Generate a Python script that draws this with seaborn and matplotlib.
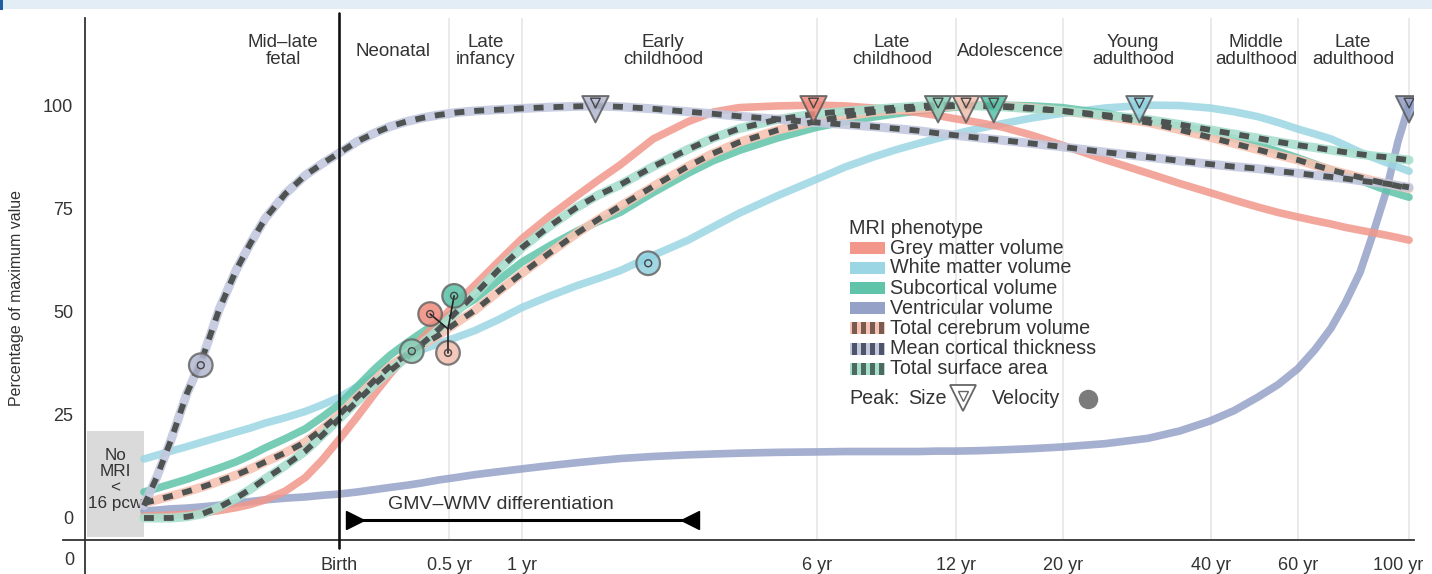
import matplotlib
matplotlib.use("Agg")
import matplotlib.pyplot as plt
from matplotlib.patches import Rectangle
from matplotlib.lines import Line2D
from matplotlib.ticker import NullLocator
import pandas as pd
import seaborn as sns

# ---- data (age = post-conception days, value = % of maximum) ----
age_days = [115, 122, 130, 140, 150, 162, 175, 187, 200, 219, 240, 259, 280, 304, 330, 353, 380,
            409, 440, 477, 520, 578, 645, 733, 829, 912, 1008, 1172, 1375, 1540, 1734, 2062, 2464,
            2812, 3194, 3548, 3923, 4278, 4643, 5156, 5753, 6596, 7562, 9201, 11194, 12950, 14853,
            16569, 18487, 20250, 22182, 23970, 25790, 27490, 29430, 31230, 33140, 34990, 36800]

gmv = [0.5, 0.6, 0.7, 0.9, 1.2, 1.8, 2.5, 3.3, 4.4, 6.5, 9.8, 14, 19, 24.5, 30.3, 34.8, 39.3,
       43.5, 47.5, 52, 56.4, 62, 67.7, 73.2, 78.1, 81.8, 85.5, 91.8, 96, 98.3, 99.4, 99.8, 100,
       99.8, 99.3, 98.8, 98.2, 97.5, 96.7, 95.8, 94.7, 92.7, 90.3, 86.8, 83.5, 81, 78.8,
       77, 75.3, 74, 72.9, 72, 71.2, 70.4, 69.7, 69.1, 68.5, 67.9, 67.3]
wmv = [14.3, 15.2, 16.2, 17.3, 18.4, 19.6, 20.8, 21.8, 23, 24.3, 25.8, 27.4, 29.2, 31.8, 34.5, 37, 39.2,
       40.8, 42.2, 43.7, 45.4, 48, 51, 53.8, 56.3, 58, 59.9, 63.6, 67.3, 70.5, 73.8, 78, 82,
       85, 87.4, 89.2, 90.7, 91.9, 93, 94.3, 95.5, 96.9, 98, 99.3, 100, 99.9, 99.3,
       98.4, 97.2, 95.8, 94.2, 93, 91.8, 90.3, 88.6, 87.3, 86.1, 85, 84]
subcortical = [6.3, 7.2, 8.2, 9.4, 10.7, 12.1, 13.6, 15.2, 17, 19.2, 21.6, 24.4, 27.5, 31.8, 36.2, 39.4, 42.3,
               45, 47.5, 50.2, 53, 57.5, 62, 66, 69.5, 71.8, 74, 78.8, 83.5, 86.5, 89, 92, 94.6,
               96, 97.1, 97.9, 98.6, 99.1, 99.5, 99.8, 100, 99.8, 99.4, 98, 96, 94.8, 93.5,
               91.9, 90.3, 88.8, 87.2, 85.7, 84.3, 83, 81.8, 80.6, 79.4, 78.5, 77.7]
ventricular = [1.7, 1.9, 2.2, 2.4, 2.7, 3.1, 3.6, 4, 4.4, 4.8, 5.1, 5.5, 5.8, 6.3, 6.9, 7.4, 7.9,
               8.5, 9.2, 9.8, 10.5, 11.2, 11.9, 12.7, 13.4, 13.9, 14.4, 14.9, 15.3, 15.5, 15.7, 15.9, 16,
               16.1, 16.1, 16.1, 16.1, 16.2, 16.2, 16.3, 16.5, 16.8, 17.2, 18, 19.3, 21.1, 23.5,
               26, 29.3, 32.3, 36.2, 40.8, 46, 52, 59.5, 68.9, 79, 91.2, 100]
tcv = [3.6, 4.4, 5.3, 6.4, 7.5, 8.9, 10.4, 11.9, 13.6, 15.8, 18.4, 21.5, 25, 29.3, 33.5, 36.7, 39.5,
       41.9, 44.2, 47.2, 50.3, 54.8, 59.3, 64.3, 69, 72.3, 75.5, 80.3, 85.2, 88.3, 91, 93.9, 96.1,
       97.3, 98.3, 98.8, 99.2, 99.5, 99.8, 100, 99.8, 99.3, 98.6, 97.3, 95.8, 94, 92.2,
       90.7, 89.2, 87.9, 86.7, 85.4, 84.3, 83.4, 82.5, 81.7, 81, 80.4, 79.8]
mct = [3, 10, 18.8, 30.3, 38.6, 50.5, 60, 66.6, 72.6, 78.5, 83, 85.8, 88.4, 91.2, 93.3, 94.8, 96,
       96.9, 97.6, 98.2, 98.6, 98.9, 99.2, 99.5, 99.7, 99.8, 99.6, 99.1, 98.4, 97.9, 97.3, 96.6, 95.8,
       95.3, 94.8, 94.3, 93.8, 93.2, 92.7, 92.1, 91.5, 90.7, 89.9, 88.6, 87.4, 86.5, 85.7,
       85.1, 84.6, 84, 83.5, 83, 82.6, 82.2, 81.7, 81.3, 81, 80.5, 80.1]
tsa = [0, 0, 0, 0.3, 1, 2.6, 4.8, 7, 9.5, 12.7, 16.2, 20, 24, 28.3, 32.5, 35.6, 38.8,
       42.2, 45.6, 49.8, 54.2, 60, 65.5, 70.8, 75.3, 78.2, 80.7, 85.1, 89.3, 92, 94.3, 96.5, 97.9,
       98.5, 99, 99.4, 99.7, 100, 100, 99.8, 99.6, 99.1, 98.6, 97.6, 96.5, 95.3, 94,
       93, 92, 91.1, 90.3, 89.7, 89.1, 88.6, 88.1, 87.7, 87.4, 87, 86.7]

phenotypes = ["Grey matter volume", "White matter volume", "Subcortical volume", "Ventricular volume",
              "Total cerebrum volume", "Mean cortical thickness", "Total surface area"]
series = [gmv, wmv, subcortical, ventricular, tcv, mct, tsa]

# peaks
peak_size_names = ["Mean cortical thickness", "Grey matter volume", "Total surface area",
                   "Total cerebrum volume", "Subcortical volume", "White matter volume", "Ventricular volume"]
peak_size_days = [901, 2435, 4298, 4882, 5540, 10763, 36805]
peak_vel_names = ["Mean cortical thickness", "Grey matter volume", "Subcortical volume",
                  "Total cerebrum volume", "Total surface area", "White matter volume"]
peak_vel_days = [149, 424, 473, 460, 390, 1146]
peak_vel_vals = [37, 49.4, 53.8, 40, 40.4, 61.7]
vel_joint = (460, 45.8)

tick_years = [0, 0.5, 1, 6, 12, 20, 40, 60, 100]
tick_labels = ["Birth", "0.5 yr", "1 yr", "6 yr", "12 yr", "20 yr", "40 yr", "60 yr", "100 yr"]
phase_labels = ["Mid\u2013late\nfetal", "Neonatal", "Late\ninfancy", "Early\nchildhood", "Late\nchildhood",
                "Adolescence", "Young\nadulthood", "Middle\nadulthood", "Late\nadulthood"]
phase_days = [217, 358, 547, 1227, 3483, 5966, 10456, 18310, 28500]

colors = {
    "Grey matter volume": "#f2978a",
    "White matter volume": "#9bd6e4",
    "Subcortical volume": "#5fc4a9",
    "Ventricular volume": "#95a1c7",
    "Total cerebrum volume": "#f5c4b3",
    "Mean cortical thickness": "#c3c8de",
    "Total surface area": "#a8decd",
}
marker_colors = {
    "Grey matter volume": "#ef8a7c",
    "White matter volume": "#8fd1df",
    "Subcortical volume": "#56c0a6",
    "Ventricular volume": "#8e9bc3",
    "Total cerebrum volume": "#f2bfae",
    "Mean cortical thickness": "#b3b8cf",
    "Total surface area": "#8ccfb9",
}
stripe_colors = {"Total cerebrum volume": "#7a5b52", "Mean cortical thickness": "#4e5569",
                 "Total surface area": "#4d6a5f"}
DASH = "#4e5352"
TXT = "#333333"

df = pd.concat([pd.DataFrame({"age_days": age_days, "value": vals, "phenotype": name})
                for name, vals in zip(phenotypes, series)], ignore_index=True)

# ---- figure ----
sns.set_theme(style="white")
plt.rcParams["font.family"] = ["Liberation Sans", "DejaVu Sans"]
W, H = 1432, 574
fig = plt.figure(figsize=(W / 100, H / 100), dpi=100)


def fx(px):
    return px / W


def fy(py):
    return 1 - py / H


ax = fig.add_axes([fx(63), fy(540), (1414 - 63) / W, (540 - 18) / H])
ax.set_xscale("log")
ax.set_xlim(79.5, 37640)
ax.set_ylim(-5.33, 121.1)

tick_days = [280 + 365.25 * y for y in tick_years]
for d in tick_days[1:]:
    ax.axvline(d, color="#e6e6e6", lw=1.2, zorder=0)
ax.axvline(280, ymin=-0.016, ymax=1.01, color="#111111", lw=1.9, zorder=5, clip_on=False)

# No MRI box
ax.add_patch(Rectangle((88.7, -4.6), 115 - 88.7, 25.6, facecolor="#dadada", edgecolor="none", zorder=0.5))
ax.text(100.8, 9.3, "No\nMRI\n<\n16 pcw", ha="center", va="center", fontsize=12.3, color=TXT,
        linespacing=1.1, zorder=0.6)

# solid curves
for name in ["Ventricular volume", "White matter volume", "Subcortical volume", "Grey matter volume"]:
    sns.lineplot(data=df[df["phenotype"] == name], x="age_days", y="value", ax=ax,
                 color=colors[name], lw=5.5, alpha=0.85, estimator=None, sort=True,
                 legend=False, zorder=2, solid_joinstyle="round")

# dashed curves (pale band with dark dashes on top)
for name in ["Total cerebrum volume", "Total surface area", "Mean cortical thickness"]:
    sub = df[df["phenotype"] == name]
    sns.lineplot(data=sub, x="age_days", y="value", ax=ax, color=colors[name], lw=6.5, alpha=0.9,
                 estimator=None, legend=False, zorder=3, solid_joinstyle="round")
    sns.lineplot(data=sub, x="age_days", y="value", ax=ax, color=DASH, lw=4.2,
                 linestyle=(0, (1.7, 1.7)), estimator=None, legend=False, zorder=3.1)

# peak velocity circles
for name, d, v in zip(peak_vel_names, peak_vel_days, peak_vel_vals):
    if name in ["Grey matter volume", "Subcortical volume", "Total cerebrum volume"]:
        ax.plot([d, vel_joint[0]], [v, vel_joint[1]], color="#222222", lw=1.2, zorder=7)
ax.scatter(peak_vel_days, peak_vel_vals, s=17 ** 2, c=[marker_colors[n] for n in peak_vel_names],
           edgecolors="#666666", linewidths=1.6, alpha=0.85, zorder=6)
ax.scatter(peak_vel_days, peak_vel_vals, s=5 ** 2, facecolors="none", edgecolors="#444444",
           linewidths=1.0, zorder=7)

# peak size triangles
ax.scatter(peak_size_days, [99] * len(peak_size_days), marker="v", s=19 ** 2,
           c=[marker_colors[n] for n in peak_size_names], edgecolors="#5a5a5a", linewidths=1.4,
           alpha=0.85, zorder=8)
ax.scatter(peak_size_days, [100.5] * len(peak_size_days), marker="v", s=7 ** 2, facecolors="none",
           edgecolors="#444444", linewidths=1.0, zorder=9)

# GMV-WMV differentiation
ax.plot([296, 1419], [-0.4, -0.4], color="black", lw=2.2, zorder=4)
ax.plot([301], [-0.4], marker=">", markersize=13, color="black", zorder=4)
ax.plot([1387], [-0.4], marker="<", markersize=13, color="black", zorder=4)
ax.text(586, 3.2, "GMV\u2013WMV differentiation", ha="center", va="center", fontsize=14, color=TXT)

# phase labels
for lab, d in zip(phase_labels, phase_days):
    ax.text(d, 113, lab, ha="center", va="center", fontsize=13.5, color=TXT, linespacing=1.0)

# axes styling
for s in ["top", "right"]:
    ax.spines[s].set_visible(False)
ax.spines["left"].set_position(("data", 87.9))
for s in ["left", "bottom"]:
    ax.spines[s].set_color("#333333")
    ax.spines[s].set_linewidth(1.3)
ax.axvline(87.9, ymin=-0.07, ymax=0, color="#333333", lw=1.3, clip_on=False)
ax.set_yticks([0, 25, 50, 75, 100])
ax.set_yticklabels(["0", "25", "50", "75", "100"])
ax.set_xticks(tick_days)
ax.set_xticklabels(tick_labels[:-1] + [""])
ax.xaxis.set_minor_locator(NullLocator())
ax.tick_params(axis="both", direction="out", length=5, width=1.2, color="#333333",
               labelsize=13, labelcolor=TXT)
ax.tick_params(axis="x", pad=7)
# last tick label sits a little left of its tick, as in the source figure
ax.annotate(tick_labels[-1], xy=(tick_days[-1], 0), xycoords=("data", "axes fraction"),
            xytext=(-11, -25), textcoords="offset pixels", ha="center", va="center",
            fontsize=13, color=TXT, annotation_clip=False)
ax.set_xlabel("")
ax.set_ylabel("")
ax.text(82, -10.3, "0", ha="center", va="center", fontsize=13, color=TXT)
fig.text(fx(17), fy(298), "Percentage of maximum value", rotation=90, ha="center", va="center",
         fontsize=11.5, color=TXT)

# legend (drawn by hand)
fig.text(fx(849), fy(229), "MRI phenotype", ha="left", va="center", fontsize=14.2, color=TXT)
rows = [248, 268, 288, 308, 328, 349, 369]
for name, py in zip(phenotypes, rows):
    fig.patches.append(Rectangle((fx(850), fy(py + 6)), 35 / W, 12 / H, transform=fig.transFigure,
                                 facecolor=colors[name], edgecolor="none"))
    if name in stripe_colors:
        for sx in [852, 861, 870, 879]:
            fig.patches.append(Rectangle((fx(sx), fy(py + 6)), 5 / W, 12 / H, transform=fig.transFigure,
                                         facecolor=stripe_colors[name], edgecolor="none"))
    fig.text(fx(890), fy(py), name, ha="left", va="center", fontsize=14.2, color=TXT)
fig.text(fx(849), fy(399), "Peak:", ha="left", va="center", fontsize=14.2, color=TXT)
fig.text(fx(908), fy(399), "Size", ha="left", va="center", fontsize=14.2, color=TXT)
fig.add_artist(Line2D([fx(963)], [fy(398)], marker="v", markersize=19, markerfacecolor="white",
                      markeredgecolor="#666666", markeredgewidth=1.3, transform=fig.transFigure))
fig.add_artist(Line2D([fx(963)], [fy(396)], marker="v", markersize=7, markerfacecolor="none",
                      markeredgecolor="#666666", markeredgewidth=1.0, transform=fig.transFigure))
fig.text(fx(992), fy(399), "Velocity", ha="left", va="center", fontsize=14.2, color=TXT)
fig.add_artist(Line2D([fx(1088)], [fy(399)], marker="o", markersize=13, markerfacecolor="#7b7b7b",
                      markeredgecolor="#7b7b7b", transform=fig.transFigure))

# top banner strip
fig.patches.append(Rectangle((0, fy(9)), 1, 9 / H, transform=fig.transFigure,
                             facecolor="#e2edf5", edgecolor="none"))
fig.patches.append(Rectangle((0, fy(10)), 3 / W, 10 / H, transform=fig.transFigure,
                             facecolor="#1f5fa0", edgecolor="none"))

fig.savefig("out.png", dpi=100)
